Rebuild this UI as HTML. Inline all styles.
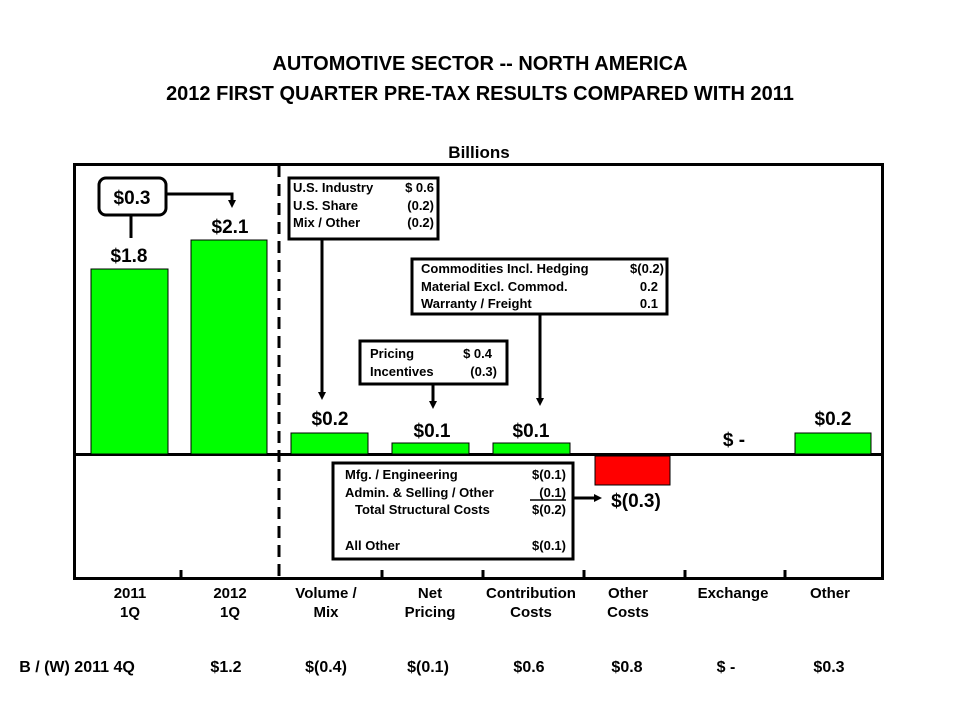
<!DOCTYPE html>
<html><head><meta charset="utf-8"><style>
body{margin:0;background:#fff}
svg text{font-family:"Liberation Sans",Arial,sans-serif;font-weight:bold;fill:#000}
</style></head><body>
<svg width="960" height="720" xmlns="http://www.w3.org/2000/svg">
<defs><marker id="a" markerWidth="8" markerHeight="8" refX="4" refY="4" orient="auto" markerUnits="userSpaceOnUse"><path d="M0,0 L8,4 L0,8 z" fill="#000"/></marker></defs>
<text x="480" y="70" font-size="20" text-anchor="middle">AUTOMOTIVE SECTOR -- NORTH AMERICA</text>
<text x="480" y="100" font-size="20" text-anchor="middle">2012 FIRST QUARTER PRE-TAX RESULTS COMPARED WITH 2011</text>
<text x="479" y="158" font-size="17" text-anchor="middle">Billions</text>
<rect x="74.5" y="164.5" width="808" height="414" fill="none" stroke="#000" stroke-width="3"/>
<line x1="74" y1="454.5" x2="882" y2="454.5" stroke="#000" stroke-width="3"/>
<line x1="279" y1="165" x2="279" y2="578" stroke="#000" stroke-width="3" stroke-dasharray="12,7"/>
<g stroke="#000" stroke-width="3">
<line x1="181" y1="570" x2="181" y2="578"/><line x1="382" y1="570" x2="382" y2="578"/><line x1="483" y1="570" x2="483" y2="578"/><line x1="584" y1="570" x2="584" y2="578"/><line x1="685" y1="570" x2="685" y2="578"/><line x1="785" y1="570" x2="785" y2="578"/>
</g>
<g fill="#00ff00" stroke="#000" stroke-width="1">
<rect x="91" y="269" width="77" height="185"/>
<rect x="191" y="240" width="76" height="214"/>
<rect x="291" y="433" width="77" height="21"/>
<rect x="392" y="443" width="77" height="11"/>
<rect x="493" y="443" width="77" height="11"/>
<rect x="795" y="433" width="76" height="21"/>
</g>
<rect x="595" y="456" width="75" height="29" fill="#ff0000" stroke="#000" stroke-width="1"/>
<g font-size="19" text-anchor="middle">
<text x="129" y="262">$1.8</text><text x="230" y="233">$2.1</text>
<text x="330" y="425">$0.2</text><text x="432" y="437">$0.1</text><text x="531" y="437">$0.1</text>
<text x="636" y="507">$(0.3)</text><text x="734" y="446">$ -</text><text x="833" y="425">$0.2</text>
</g>
<rect x="99" y="178" width="67" height="37" rx="7" fill="#fff" stroke="#000" stroke-width="3"/>
<text x="132" y="204" font-size="19" text-anchor="middle">$0.3</text>
<line x1="131" y1="215" x2="131" y2="238" stroke="#000" stroke-width="3"/>
<polyline points="166,194 232,194 232,204" fill="none" stroke="#000" stroke-width="3" marker-end="url(#a)"/>
<g fill="#fff" stroke="#000" stroke-width="3">
<rect x="289" y="178" width="149" height="61"/>
<rect x="412" y="259" width="255" height="55"/>
<rect x="360" y="341" width="147" height="43"/>
<rect x="333" y="463" width="240" height="96"/>
</g>
<g stroke="#000" stroke-width="3" marker-end="url(#a)">
<line x1="322" y1="239" x2="322" y2="396"/>
<line x1="540" y1="314" x2="540" y2="402"/>
<line x1="433" y1="384" x2="433" y2="405"/>
<line x1="573" y1="498" x2="598" y2="498"/>
</g>
<g font-size="13">
<text x="293" y="192">U.S. Industry</text><text x="434" y="192" text-anchor="end">$ 0.6</text>
<text x="293" y="210">U.S. Share</text><text x="434" y="210" text-anchor="end">(0.2)</text>
<text x="293" y="227">Mix / Other</text><text x="434" y="227" text-anchor="end">(0.2)</text>
<text x="421" y="273">Commodities Incl. Hedging</text><text x="664" y="273" text-anchor="end">$(0.2)</text>
<text x="421" y="291">Material Excl. Commod.</text><text x="658" y="291" text-anchor="end">0.2</text>
<text x="421" y="308">Warranty / Freight</text><text x="658" y="308" text-anchor="end">0.1</text>
<text x="370" y="358">Pricing</text><text x="492" y="358" text-anchor="end">$ 0.4</text>
<text x="370" y="376">Incentives</text><text x="497" y="376" text-anchor="end">(0.3)</text>
<text x="345" y="479">Mfg. / Engineering</text><text x="566" y="479" text-anchor="end">$(0.1)</text>
<text x="345" y="497">Admin. &amp; Selling / Other</text><text x="566" y="497" text-anchor="end">(0.1)</text>
<text x="355" y="514">Total Structural Costs</text><text x="566" y="514" text-anchor="end">$(0.2)</text>
<text x="345" y="550">All Other</text><text x="566" y="550" text-anchor="end">$(0.1)</text>
</g>
<line x1="530" y1="500" x2="566" y2="500" stroke="#000" stroke-width="1.5"/>
<g font-size="15" text-anchor="middle">
<text x="130" y="598">2011</text><text x="130" y="617">1Q</text>
<text x="230" y="598">2012</text><text x="230" y="617">1Q</text>
<text x="326" y="598">Volume /</text><text x="326" y="617">Mix</text>
<text x="430" y="598">Net</text><text x="430" y="617">Pricing</text>
<text x="531" y="598">Contribution</text><text x="531" y="617">Costs</text>
<text x="628" y="598">Other</text><text x="628" y="617">Costs</text>
<text x="733" y="598">Exchange</text>
<text x="830" y="598">Other</text>
</g>
<g font-size="16" text-anchor="middle">
<text x="77" y="672">B / (W) 2011 4Q</text>
<text x="226" y="672">$1.2</text><text x="326" y="672">$(0.4)</text><text x="428" y="672">$(0.1)</text>
<text x="529" y="672">$0.6</text><text x="627" y="672">$0.8</text><text x="726" y="672">$ -</text><text x="829" y="672">$0.3</text>
</g>
</svg>
</body></html>
